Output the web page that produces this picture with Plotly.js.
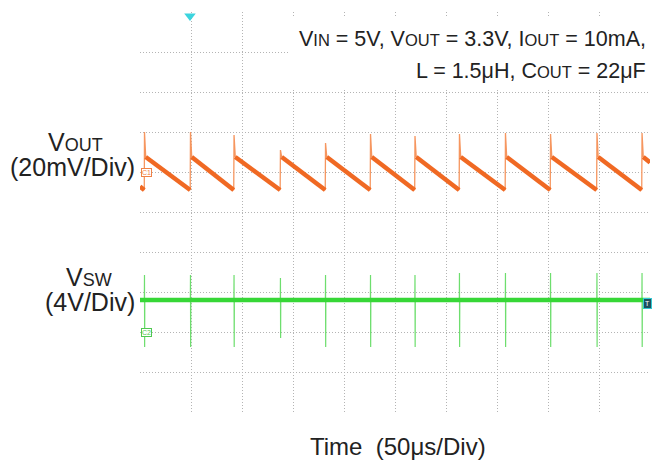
<!DOCTYPE html>
<html>
<head>
<meta charset="utf-8">
<script src="https://cdn.plot.ly/plotly-3.0.1.min.js"></script>
<style>html,body{margin:0;padding:0;background:#fff;}#chart{width:662px;height:464px;}</style>
</head>
<body>
<div id="chart"></div>
<script>
// ---- Data (read from the oscilloscope capture) ----
// Time axis: 50 µs/div, 10 divisions
var gridTimes = [50, 100, 150, 200, 250, 300, 350, 400, 450, 500];
// VOUT ripple (mV, AC coupled, 20 mV/div)
var voutTime = [0, 4.2, 4.4, 5.6, 49.2, 49.5, 50.7, 91.9, 92.2, 93.4, 137.4, 137.7, 138.9,
  181.6, 181.9, 183.1, 225.7, 226.0, 227.2, 269.3, 269.6, 270.8, 312.9, 313.2, 314.4,
  358.0, 358.3, 359.5, 402.2, 402.5, 403.7, 447.7, 448.0, 449.2, 491.9, 492.2, 493.4, 500];
var voutMv = [-7.3, -9, 20, 7.5, -9, 20, 7.5, -9, 18.5, 7.5, -9, 11, 7.5,
  -9, 14.5, 7.5, -9, 19, 7.5, -9, 18, 7.5, -9, 19, 7.5,
  -9, 19.5, 7.5, -9, 19, 7.5, -9, 19.5, 7.5, -9, 19.5, 7.5, 4.8];
// VSW (V, 4 V/div)
var vswTime = [0,
  4.25, 4.4, 4.55, 4.7,
  49.35, 49.5, 49.65, 49.8,
  92.05, 92.2, 92.35, 92.5,
  137.55, 137.7, 137.85, 138.0,
  181.75, 181.9, 182.05, 182.2,
  225.85, 226.0, 226.15, 226.3,
  269.45, 269.6, 269.75, 269.9,
  313.05, 313.2, 313.35, 313.5,
  358.15, 358.3, 358.45, 358.6,
  402.35, 402.5, 402.65, 402.8,
  447.85, 448.0, 448.15, 448.3,
  492.05, 492.2, 492.35, 492.5,
  500];
var vswV = [3.2,
  3.2, 5.7, -1.5, 3.2,
  3.2, 5.7, -1.5, 3.2,
  3.2, 5.7, -1.5, 3.2,
  3.2, 5.4, -0.6, 3.2,
  3.2, 5.7, -1.5, 3.2,
  3.2, 5.7, -1.5, 3.2,
  3.2, 5.7, -1.5, 3.2,
  3.2, 5.9, -1.5, 3.2,
  3.2, 5.9, -1.5, 3.2,
  3.2, 5.9, -1.5, 3.2,
  3.2, 5.9, -1.5, 3.2,
  3.2, 5.9, -1.5, 3.2,
  3.2];
var triggerTime = [49.0];
var triggerLevel = [78];

// ---- Traces ----
var voutThick = voutMv.map(function (v, i) { return (i % 3 === 2) ? null : v; });
var vswThick = vswV.map(function (v) { return (v === 3.2) ? v : null; });

var traces = [
  {x: voutTime, y: voutMv, type: 'scatter', mode: 'lines', xaxis: 'x', yaxis: 'y',
   line: {color: 'rgb(246,150,95)', width: 1.3}, hoverinfo: 'skip'},
  {x: voutTime, y: voutThick, type: 'scatter', mode: 'lines', xaxis: 'x', yaxis: 'y',
   connectgaps: false, line: {color: 'rgb(240,105,35)', width: 4.5}, hoverinfo: 'skip'},
  {x: vswTime, y: vswV, type: 'scatter', mode: 'lines', xaxis: 'x', yaxis: 'y2',
   line: {color: 'rgb(110,222,110)', width: 1.2}, hoverinfo: 'skip'},
  {x: vswTime, y: vswThick, type: 'scatter', mode: 'lines', xaxis: 'x', yaxis: 'y2',
   connectgaps: true, line: {color: 'rgb(55,215,55)', width: 4.5}, hoverinfo: 'skip'},
  {x: triggerTime, y: triggerLevel, type: 'scatter', mode: 'markers', xaxis: 'x', yaxis: 'y',
   cliponaxis: false, marker: {symbol: 'triangle-down', size: 10, color: 'rgb(60,212,222)'},
   hoverinfo: 'skip'}
];

// ---- Layout ----
var L = 140, R = 650, T = 12, B = 412;
function px(x) { return (x - L) / (R - L); }
function py(y) { return (B - y) / (B - T); }
var FONT = 'Liberation Sans, Arial, Helvetica, sans-serif';
var TXT = '#222222';

function lbl(text, x, y, size, xanchor) {
  return {xref: 'paper', yref: 'paper', x: px(x), y: py(y), text: text, showarrow: false,
    xanchor: xanchor || 'center', yanchor: 'middle', font: {family: FONT, size: size, color: TXT}};
}
var sc = function (s, fs) { return '<span style="font-size:' + fs + 'px">' + s + '</span>'; };

var annotations = [
  lbl('V' + sc('OUT', 18), 75, 142, 25),
  lbl('(20mV/Div)', 72, 167, 25),
  lbl('V' + sc('SW', 18), 89, 277, 25),
  lbl('(4V/Div)', 90, 302, 25),
  lbl('Time\u00a0 (50\u03bcs/Div)', 398, 447, 24),
  lbl('V' + sc('IN', 16.5) + ' = 5V, V' + sc('OUT', 16.5) + ' = 3.3V, I' + sc('OUT', 16.5) + ' = 10mA,', 648, 39, 21.5, 'right'),
  lbl('L = 1.5\u03bcH, C' + sc('OUT', 16.5) + ' = 22\u03bcF', 648, 71, 21.5, 'right'),
  {xref: 'paper', yref: 'paper', x: px(141), y: py(172), text: 'C1', showarrow: false,
   xanchor: 'left', yanchor: 'middle', font: {family: FONT, size: 7, color: 'rgb(240,130,70)'},
   bgcolor: '#ffffff', bordercolor: 'rgb(240,130,70)', borderwidth: 1, borderpad: 0},
  {xref: 'paper', yref: 'paper', x: px(141), y: py(332), text: 'C2', showarrow: false,
   xanchor: 'left', yanchor: 'middle', font: {family: FONT, size: 7, color: 'rgb(80,200,80)'},
   bgcolor: '#ffffff', bordercolor: 'rgb(80,200,80)', borderwidth: 1, borderpad: 0},
  {xref: 'paper', yref: 'paper', x: px(652), y: py(303), text: 'T', showarrow: false,
   xanchor: 'right', yanchor: 'middle', font: {family: FONT, size: 7, color: '#ffffff'},
   bgcolor: 'rgb(30,80,95)', bordercolor: 'rgb(50,200,210)', borderwidth: 1, borderpad: 1}
];

var layout = {
  width: 662, height: 464,
  margin: {l: L, r: 662 - R, t: T, b: 464 - B, pad: 0},
  paper_bgcolor: '#ffffff', plot_bgcolor: '#ffffff',
  showlegend: false,
  xaxis: {range: [0, 500], tickmode: 'array', tickvals: gridTimes, showticklabels: false,
    ticks: '', showgrid: true, gridcolor: 'rgb(180,180,180)', griddash: '1px,2px', gridwidth: 1,
    zeroline: false, showline: false, fixedrange: true},
  yaxis: {range: [-120, 80], tickmode: 'array', tickvals: [-100, -80, -60, -40, -20, 0, 20, 40, 60, 80],
    showticklabels: false, ticks: '', showgrid: true, gridcolor: 'rgb(180,180,180)', griddash: '1px,2px',
    gridwidth: 1, zeroline: false, showline: false, fixedrange: true},
  yaxis2: {range: [-8, 32], overlaying: 'y', visible: false, fixedrange: true},
  shapes: [
    {type: 'rect', xref: 'paper', yref: 'paper', x0: px(288), x1: px(651), y0: py(88), y1: py(17),
     fillcolor: '#ffffff', line: {width: 0}, layer: 'above'}
  ],
  annotations: annotations
};

Plotly.newPlot('chart', traces, layout, {displayModeBar: false, staticPlot: true});
</script>
</body>
</html>
